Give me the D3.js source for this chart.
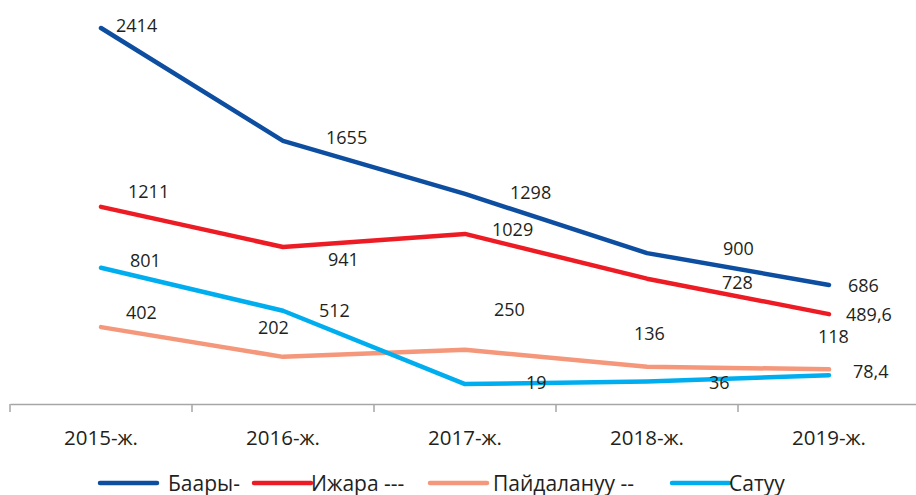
<!DOCTYPE html>
<html>
<head>
  <meta charset="utf-8">
  <title></title>
  <script src="https://d3js.org/d3.v7.min.js"></script>
  <style>
    body { margin: 0; background: #fff; }
    text { font-family: "Open Sans", sans-serif; fill: #231f20; }
  </style>
</head>
<body>
<script>
// data
var years = ["2015-ж.", "2016-ж.", "2017-ж.", "2018-ж.", "2019-ж."];
var seriesNames = ["Баары-", "Ижара ---", "Пайдалануу --", "Сатуу"];
var baary = [2414, 1655, 1298, 900, 686];
var ijara = [1211, 941, 1029, 728, 489.6];
var paidalanuu = [402, 202, 250, 136, 118];
var satuu = [801, 512, 19, 36, 78.4];

var colors = ["#0d4ea1", "#ed1c24", "#f5977a", "#00aeef"];
// where each value label sits relative to its point [dx, dy]
var labelShift = [
  [[15, 4], [43, 3], [45, 5], [76, 2], [19, 7]],
  [[27, -9], [45, 19], [27, 2], [75, 10], [17, 7]],
  [[25, -8], [-25, -23], [29, -34], [-13, -27], [-11, -26]],
  [[29, -1], [36, 6], [61, 5], [62, 7], [24, 3]]
];

var series = [baary, ijara, paidalanuu, satuu].map(function (vals, i) {
  return { name: seriesNames[i], color: colors[i], values: vals };
});

var w = 916, h = 495;
var svg = d3.select("body").append("svg")
  .attr("width", w)
  .attr("height", h);

var x = d3.scaleBand()
  .domain(years)
  .range([10, 920]);

var ymax = d3.max(series, function (s) { return d3.max(s.values); });
var y = d3.scaleLinear()
  .domain([-115, ymax])
  .range([404, 28]);

var axis = svg.append("g")
  .attr("transform", "translate(0,404)")
  .call(d3.axisBottom(x).tickSize(0).tickPadding(26));
axis.select(".domain").attr("stroke", "#a6a6a6").attr("stroke-width", 1.5);
axis.selectAll(".tick text")
  .style("font-size", "20.5px")
  .style("font-family", "'Open Sans', sans-serif")
  .attr("fill", "#231f20");

// the separators between years
svg.append("g").selectAll("line")
  .data(years)
  .enter()
  .append("line")
  .attr("x1", function (d) { return x(d); })
  .attr("x2", function (d) { return x(d); })
  .attr("y1", 404)
  .attr("y2", 412)
  .attr("stroke", "#a6a6a6")
  .attr("stroke-width", 1.5);

var line = d3.line()
  .x(function (d, i) { return x(years[i]) + x.bandwidth() / 2; })
  .y(function (d) { return y(d); });

svg.selectAll("path.series")
  .data(series)
  .enter()
  .append("path")
  .attr("class", "series")
  .attr("d", function (s) { return line(s.values); })
  .attr("fill", "none")
  .attr("stroke", function (s) { return s.color; })
  .attr("stroke-width", 4.5)
  .attr("stroke-linecap", "round")
  .attr("stroke-linejoin", "round");

series.forEach(function (s, si) {
  svg.append("g").selectAll("text")
    .data(s.values)
    .enter()
    .append("text")
    .attr("x", function (d, i) { return x(years[i]) + x.bandwidth() / 2 + labelShift[si][i][0]; })
    .attr("y", function (d, i) { return y(d) + labelShift[si][i][1]; })
    .style("font-size", "18px")
    .text(function (d) { return String(d).replace(".", ","); });
});

// legend
var legendX = [100, 254, 430, 672];
var leg = svg.append("g").selectAll("g")
  .data(series)
  .enter()
  .append("g")
  .attr("transform", function (d, i) { return "translate(" + legendX[i] + ",483)"; });
leg.append("line")
  .attr("x1", 0).attr("x2", 57)
  .attr("stroke", function (d) { return d.color; })
  .attr("stroke-width", 4.5)
  .attr("stroke-linecap", "round");
leg.append("text")
  .attr("x", function (d, i) { return i == 0 ? 68 : (i == 2 ? 63 : 57); })
  .attr("y", 8)
  .style("font-size", "21px")
  .text(function (d) { return d.name; });
</script>
</body>
</html>
